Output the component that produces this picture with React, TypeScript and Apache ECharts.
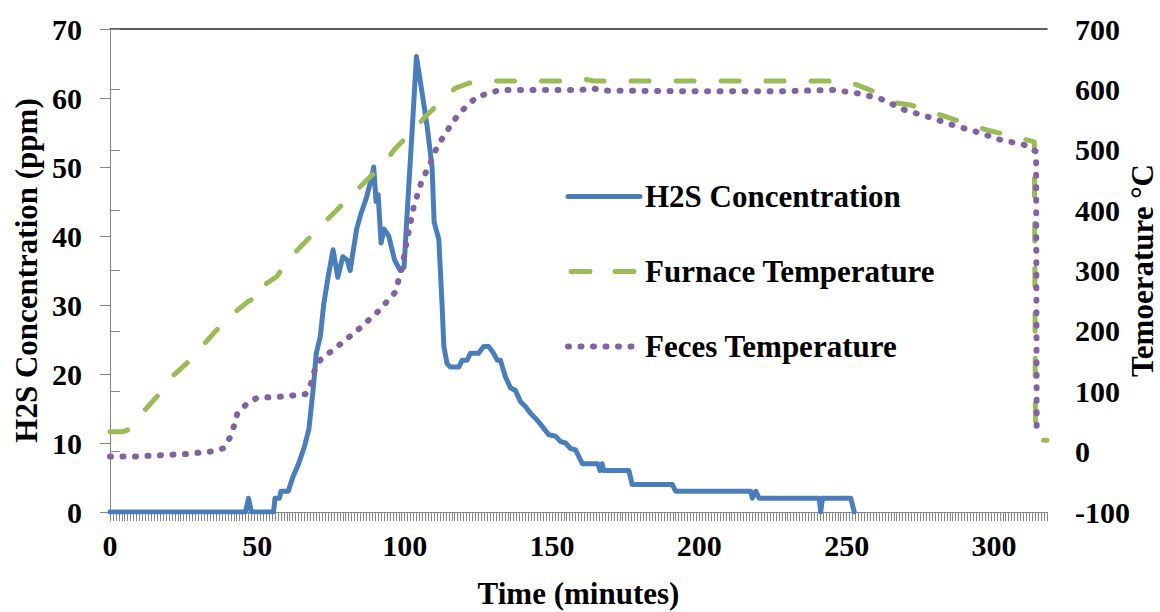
import React, { useEffect, useRef } from "react";
import * as echarts from "echarts";

// H2S concentration (ppm) vs time (min)
const h2sData: [number, number][] = [
  [0, 0], [46, 0], [47, 2], [48, 0], [55.5, 0], [56, 2], [57.5, 2], [58, 3], [60.5, 3],
  [62, 5], [64, 7], [66, 9.5], [67.5, 12], [69, 18], [70, 23], [71.4, 25.5], [72.5, 30],
  [74, 34], [75.7, 38], [77.3, 34], [79, 37], [80.5, 36.5], [81.5, 35], [83.7, 41],
  [85, 43], [87, 45.5], [88.8, 48.5], [89.5, 50], [90.3, 45], [91, 46], [92, 39],
  [93, 41], [94.6, 40], [96.6, 36.5], [98.5, 35], [99.8, 35.5], [100.8, 43], [102.5, 55],
  [104, 66], [106, 60.5], [107.6, 56], [109.3, 50], [110, 42], [111.6, 39.5], [112.7, 30],
  [113.3, 24], [114.4, 21.5], [115.5, 21], [118.4, 21], [119.5, 22], [121.2, 22],
  [122.3, 23], [125.1, 23], [126.8, 24], [128.5, 24], [130.2, 23], [131.4, 22], [132.5, 22],
  [134.2, 19.6], [135.9, 18], [137.6, 17.6], [139.3, 16], [141, 15.3], [142.7, 14.3],
  [145, 13.3], [146.7, 12.4], [148.9, 11.2], [151.2, 11], [152.9, 10.2], [154.6, 10],
  [156.3, 9.2], [158, 9], [160.3, 7], [165.6, 7], [166.3, 6], [167, 7], [167.6, 6],
  [176.1, 6], [177.2, 4], [190.8, 4], [192, 3], [217.5, 3], [218, 2], [219.2, 3],
  [220.3, 2], [240.7, 2], [241.2, 0], [241.8, 2], [251.4, 2], [252.6, 0]
];

// Furnace temperature (°C) vs time (min)
const furnaceData: [number, number][] = [
  [0, 33], [4.5, 33], [6, 36], [11.3, 66], [15.9, 91], [21, 124], [26, 146], [31.2, 174],
  [35.7, 199], [41.9, 229], [47, 249], [50.5, 258], [52, 256], [53, 278], [56.6, 290],
  [60, 314], [64.6, 339], [70.2, 367], [75.9, 395], [80.4, 417], [87.2, 450], [92.9, 477],
  [96.8, 502], [101.9, 527], [106.5, 552], [111.6, 577], [117.2, 602], [123.4, 613],
  [132.5, 614], [159, 614], [161, 617], [164, 614], [250, 614], [253.7, 607], [259.4, 596],
  [266.2, 578], [271.8, 574], [278.6, 563], [285.4, 552], [293.3, 539], [299, 531],
  [306.9, 522], [313.7, 513], [314.1, 19], [318, 19]
];

// Feces temperature (°C) vs time (min)
const fecesData: [number, number][] = [
  [0, -8], [8.5, -8], [17, -6], [25.5, -4], [34, 0], [38.5, 5.5], [40.8, 24], [42.2, 44],
  [43.2, 63], [46.2, 78], [49.8, 89], [57.8, 91], [66.3, 95], [68.2, 113], [69.4, 134],
  [71.4, 152], [78.2, 178], [84.9, 205], [91.2, 233], [96.8, 264], [99.1, 305],
  [100.2, 335], [103.1, 406], [105.9, 450], [108.2, 472], [111, 505], [113.8, 527],
  [118.4, 560], [124.6, 588], [132.5, 599], [160, 599], [163.7, 602], [167, 598],
  [193.7, 597], [227.7, 597], [245.8, 599], [254.3, 593], [261.7, 584], [269.6, 566],
  [278, 554], [286, 541], [293.9, 530], [301.8, 517], [310.3, 508], [314.3, 497], [314.5, 30]
];

const seriesNames = ["H2S Concentration", "Furnace Temperature", "Feces Temperature"];
const xLabelStep = 50;
const xMax = 318;

const FONT = "'Liberation Serif', 'Times New Roman', serif";

const BLUE = "#4A7EBB";
const GREEN = "#9BBB59";
const PURPLE = "#8064A2";
const greenDash = [18, 27];
const purpleDash = [1, 11.5];

export default function App() {
  const ref = useRef<HTMLDivElement>(null);
  useEffect(() => {
    if (!ref.current) return;
    const chart = echarts.init(ref.current, undefined, { renderer: "svg" });
    const axisGray = "#868686";
    const labelStyle = { fontFamily: FONT, fontWeight: "bold" as const, fontSize: 30, color: "#000" };
    const titleStyle = { ...labelStyle, fontSize: 31 };
    chart.setOption({
      animation: false,
      backgroundColor: "#fff",
      grid: { left: 110, width: 937, top: 29, height: 483, containLabel: false, outerBoundsMode: "none" },
      legend: {
        orient: "vertical",
        left: 560,
        top: 176,
        itemWidth: 72,
        itemHeight: 26,
        itemGap: 44,
        itemStyle: { opacity: 0 },
        data: [
          { name: seriesNames[0], lineStyle: { color: BLUE, width: 5, type: "solid", cap: "round" } },
          { name: seriesNames[1], lineStyle: { color: GREEN, width: 5, type: [19, 25], dashOffset: 40.5, cap: "round" } },
          { name: seriesNames[2], lineStyle: { color: PURPLE, width: 6, type: purpleDash, cap: "round" } },
        ],
        textStyle: { fontFamily: FONT, fontWeight: "bold", fontSize: 31, lineHeight: 31, color: "#000" },
      },
      xAxis: [
        {
          type: "value",
          position: "bottom",
          min: 0,
          max: xMax,
          interval: 1,
          name: "Time (minutes)",
          nameLocation: "middle",
          nameGap: 66,
          nameMoveOverlap: false,
          nameTextStyle: titleStyle,
          axisLine: { show: true, lineStyle: { color: axisGray, width: 1 } },
          axisTick: { show: true, length: 9, lineStyle: { color: axisGray, width: 1 } },
          axisLabel: {
            ...labelStyle,
            margin: 18,
            formatter: (v: number) => (v % xLabelStep === 0 ? String(v) : ""),
          },
          splitLine: { show: false },
        },
        {
          type: "value",
          position: "top",
          min: 0,
          max: xMax,
          axisLine: { show: true, onZero: false, lineStyle: { color: "#262626", width: 1.5 } },
          axisTick: { show: false },
          axisLabel: { show: false },
          splitLine: { show: false },
        },
      ],
      yAxis: [
        {
          type: "value",
          position: "left",
          min: 0,
          max: 70,
          interval: 10,
          name: "H2S Concentration (ppm)",
          nameLocation: "middle",
          nameRotate: 90,
          nameGap: 68,
          nameMoveOverlap: false,
          nameTextStyle: titleStyle,
          axisLine: { show: true, lineStyle: { color: axisGray, width: 1 } },
          axisTick: { show: true, length: 10, lineStyle: { color: axisGray } },
          axisLabel: { ...labelStyle, margin: 28 },
          splitLine: { show: false },
        },
        {
          type: "value",
          position: "right",
          min: -100,
          max: 700,
          interval: 100,
          name: "Temoerature °C",
          nameLocation: "middle",
          nameRotate: 90,
          nameGap: 80,
          nameMoveOverlap: false,
          nameTextStyle: titleStyle,
          axisLine: { show: true, lineStyle: { color: axisGray, width: 1 } },
          axisTick: { show: true, length: 10, lineStyle: { color: axisGray } },
          axisLabel: { ...labelStyle, margin: 28 },
          splitLine: { show: false },
        },
      ],
      series: [
        {
          name: seriesNames[0],
          type: "line",
          xAxisIndex: 0,
          yAxisIndex: 0,
          data: h2sData,
          showSymbol: false,
          symbol: "none",
          color: BLUE,
          lineStyle: { color: BLUE, width: 5, join: "round", cap: "round" },
          z: 2,
        },
        {
          name: seriesNames[1],
          type: "line",
          xAxisIndex: 0,
          yAxisIndex: 1,
          data: furnaceData,
          showSymbol: false,
          symbol: "none",
          color: GREEN,
          lineStyle: { color: GREEN, width: 5, type: greenDash, cap: "round", join: "round" },
          z: 3,
        },
        {
          name: seriesNames[2],
          type: "line",
          xAxisIndex: 0,
          yAxisIndex: 1,
          data: fecesData,
          showSymbol: false,
          symbol: "none",
          color: PURPLE,
          lineStyle: { color: PURPLE, width: 6, type: purpleDash, cap: "round", join: "round" },
          z: 4,
        },
      ],
    });
    return () => chart.dispose();
  }, []);
  return (
    <div
      ref={ref}
      style={{ position: "fixed", left: 0, top: 0, width: 1160, height: 612, background: "#fff" }}
    />
  );
}
